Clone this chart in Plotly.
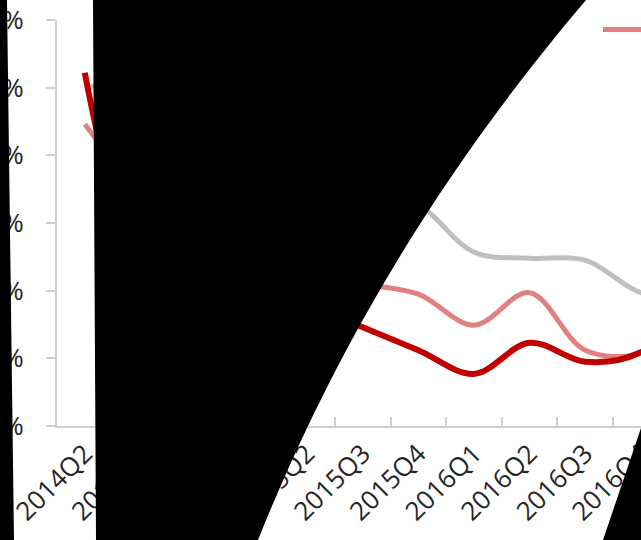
import plotly.graph_objects as go

# Quarterly categories (the last one sits just past the visible axis range)
quarters = ["2014Q2", "2014Q3", "2014Q4", "2015Q1", "2015Q2", "2015Q3",
            "2015Q4", "2016Q1", "2016Q2", "2016Q3", "2016Q4", "2017Q1"]

# Series values in percent
series_red = [52.2, 26.0, 23.1, 20.1, 17.9, 14.6, 11.2, 7.7, 12.3, 9.5, 10.9, 18.6]
series_pink = [44.6, 34.9, 29.0, 26.0, 23.8, 21.1, 19.5, 14.9, 19.7, 11.2, 10.9, 18.6]
series_gray = [49.9, 51.1, 48.2, 43.7, 39.3, 35.6, 32.8, 25.7, 24.8, 24.5, 19.7, 18.6]

names = ["Series 1", "Series 2", "Series 3"]

W, H = 641, 540
ML, MR, MT, MB = 57, 0, 20, 114
PW, PH = W - ML - MR, H - MT - MB

FONT = "Open Sans"
TEXT = "#262626"
AXIS = "#d0d0d0"

fig = go.Figure()
fig.add_trace(go.Scatter(x=quarters, y=series_gray, name=names[2], mode="lines",
                         line=dict(color="#bfbfbf", width=5, shape="spline", smoothing=1),
                         legendrank=3))
fig.add_trace(go.Scatter(x=quarters, y=series_pink, name=names[0], mode="lines",
                         line=dict(color="#e08080", width=5, shape="spline", smoothing=1),
                         legendrank=1))
fig.add_trace(go.Scatter(x=quarters, y=series_red, name=names[1], mode="lines",
                         line=dict(color="#c00000", width=6, shape="spline", smoothing=1),
                         legendrank=2))


def px(X):
    return (X - ML) / PW


def py(Y):
    return (H - MB - Y) / PH


def path(cmds):
    out = []
    for c in cmds:
        if isinstance(c, str):
            out.append(c)
        else:
            out.append(f"{px(c[0]):.5f},{py(c[1]):.5f}")
    return " ".join(out)


# Black cut-out regions drawn over the chart
black_left = path(["M", (-5, -5), "L", (7, -5), "L", (7, 0), "L", (14, 540),
                   "L", (14, 545), "L", (-5, 545), "Z"])
black_mid = path(["M", (93, -5), "L", (589, -5), "L", (586, 0),
                  "C", (433, 180), (330, 360), (258, 540),
                  "L", (256, 545), "L", (96, 545), "L", (96, 540), "L", (93, 0), "Z"])
black_right = path(["M", (641, 428), "L", (603, 540), "L", (601, 545),
                    "L", (646, 545), "L", (646, 428), "Z"])

shapes = [dict(type="path", xref="paper", yref="paper", path=p,
               fillcolor="black", line=dict(width=0), layer="above")
          for p in (black_left, black_mid, black_right)]

fig.update_layout(
    width=W, height=H,
    margin=dict(l=ML, r=MR, t=MT, b=MB, autoexpand=False),
    paper_bgcolor="white", plot_bgcolor="white",
    font=dict(family=FONT, size=26, color=TEXT),
    showlegend=True,
    legend=dict(orientation="h", x=px(598), xanchor="left", y=py(6), yanchor="top",
                itemwidth=60,
                font=dict(size=26, color=TEXT), bgcolor="rgba(0,0,0,0)"),
    shapes=shapes,
    xaxis=dict(type="category", range=[-0.5, 10.004], showgrid=False,
               showline=True, linecolor=AXIS, linewidth=2,
               ticks="inside", tickson="boundaries", ticklen=9, tickcolor=AXIS,
               tickwidth=2, tickangle=-45, tickfont=dict(size=26, color=TEXT)),
    yaxis=dict(range=[0, 60], dtick=10, ticksuffix="%", showgrid=False,
               zeroline=False, showline=True, linecolor=AXIS, linewidth=2,
               ticks="outside", ticklen=9, tickcolor=AXIS, tickwidth=2,
               ticklabelstandoff=17, tickfont=dict(size=26, color=TEXT)),
)

fig.write_html("out.html")
